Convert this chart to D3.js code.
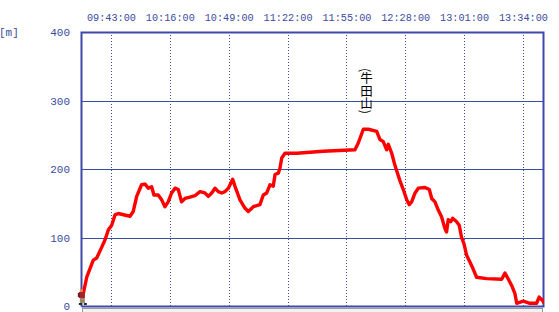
<!DOCTYPE html>
<html>
<head>
<meta charset="utf-8">
<script src="https://cdn.jsdelivr.net/npm/d3@7"></script>
<style>
  body { margin: 0; background: #fff; }
  svg { display: block; }
  .lbl { font-family: "Liberation Mono", monospace; font-size: 11px; fill: #3b4a9e; }
</style>
</head>
<body>
<div id="chart"></div>
<script>
// elevation track
const times = [
  '09:26:40', '09:29:25', '09:33:05', '09:35:00', '09:37:50', '09:39:35', '09:41:30', '09:43:25',
  '09:45:15', '09:47:05', '09:53:40', '09:55:30', '09:57:25', '10:00:10', '10:02:05', '10:03:55',
  '10:05:50', '10:07:05', '10:09:30', '10:11:25', '10:13:15', '10:15:05', '10:17:00', '10:18:55',
  '10:20:45', '10:22:35', '10:24:30', '10:27:20', '10:30:05', '10:32:55', '10:35:40', '10:37:35',
  '10:39:30', '10:41:20', '10:43:10', '10:45:05', '10:46:55', '10:48:50', '10:51:15', '10:52:30',
  '10:55:20', '10:58:05', '11:00:00', '11:02:50', '11:06:30', '11:08:25', '11:10:20', '11:12:10',
  '11:14:00', '11:15:00', '11:16:50', '11:17:45', '11:18:45', '11:20:35', '11:27:10', '11:42:00',
  '11:59:50', '12:01:40', '12:04:30', '12:07:20', '12:12:00', '12:13:50', '12:15:40', '12:17:35',
  '12:18:30', '12:20:25', '12:22:15', '12:25:00', '12:26:55', '12:28:50', '12:30:15', '12:31:35',
  '12:33:30', '12:35:20', '12:39:05', '12:41:30', '12:42:50', '12:44:40', '12:46:30', '12:48:25',
  '12:50:15', '12:51:10', '12:52:05', '12:53:30', '12:54:35', '12:56:50', '12:58:15', '12:59:35',
  '13:00:55', '13:02:25', '13:03:55', '13:05:55', '13:08:00', '13:13:35', '13:22:05', '13:23:55',
  '13:25:50', '13:27:40', '13:29:30', '13:30:30', '13:34:10', '13:37:55', '13:41:40', '13:43:05',
  '13:45:00', '13:45:50'
];
const elevations = [
  8, 42, 67, 70, 86, 96, 111, 118,
  133, 135, 131, 138, 160, 177, 178, 172,
  174, 162, 162, 155, 145, 152, 165, 172,
  170, 152, 157, 159, 161, 167, 165, 160,
  165, 172, 167, 165, 167, 172, 185, 175,
  155, 143, 138, 145, 148, 162, 165, 177,
  175, 192, 194, 201, 216, 223, 223, 226,
  228, 238, 258, 258, 255, 243, 240, 228,
  236, 223, 205, 183, 170, 155, 148, 152,
  165, 172, 173, 170, 157, 152, 140, 130,
  113, 108, 126, 123, 128, 123, 118, 100,
  91, 74, 66, 55, 42, 40, 39, 48,
  39, 30, 18, 4, 7, 4, 4, 13,
  8, 4
];
const timeTicks = ['09:43:00', '10:16:00', '10:49:00', '11:22:00', '11:55:00', '12:28:00', '13:01:00', '13:34:00'];
const elevTicks = [0, 100, 200, 300, 400];
const timeRange = ['09:26:12', '13:45:48'];
const summit = { name: '(牛田山)', time: '12:06:20' };

const width = 559;
const height = 312;
const margin = { top: 32, right: 15, bottom: 6, left: 81 };

const parse = d3.timeParse('%H:%M:%S');
const data = times.map((t, i) => ({ t: parse(t), e: elevations[i] }));

const svg = d3.select('#chart')
  .append('svg')
  .attr('width', width)
  .attr('height', height);

const x = d3.scaleTime()
  .domain(timeRange.map(parse))
  .range([margin.left, width - margin.right]);

const y = d3.scaleLinear()
  .domain([0, 400])
  .range([height - margin.bottom, margin.top]);

const frameColor = '#3f48aa';
const gridColor = '#3a4ea0';

// scrollbar-like strip under the plot
svg.append('rect')
  .attr('x', x.range()[0] + 1.5)
  .attr('y', y(0) + 2.5)
  .attr('width', x.range()[1] - x.range()[0] - 3)
  .attr('height', 8)
  .attr('fill', '#f2f2f2')
  .attr('stroke', '#9a9a9a');

// horizontal grid
svg.append('g')
  .selectAll('line')
  .data(elevTicks.filter(d => d > 0 && d < 400))
  .enter()
  .append('line')
  .attr('x1', x.range()[0])
  .attr('x2', x.range()[1])
  .attr('y1', d => Math.round(y(d)) + 0.5)
  .attr('y2', d => Math.round(y(d)) + 0.5)
  .attr('stroke', gridColor)
  .attr('stroke-width', 1);

// vertical dotted grid
svg.append('g')
  .selectAll('line')
  .data(timeTicks.map(parse))
  .enter()
  .append('line')
  .attr('x1', d => Math.round(x(d)) + 0.5)
  .attr('x2', d => Math.round(x(d)) + 0.5)
  .attr('y1', y(400))
  .attr('y2', y(0))
  .attr('stroke', gridColor)
  .attr('stroke-width', 1)
  .attr('stroke-dasharray', '1,2');

// top time axis (labels only)
const xAxis = d3.axisTop(x)
  .tickValues(timeTicks.map(parse))
  .tickFormat(d3.timeFormat('%H:%M:%S'))
  .tickSize(0)
  .tickPadding(0);

svg.append('g')
  .attr('transform', 'translate(0,' + (margin.top - 11) + ')')
  .call(xAxis)
  .call(g => g.select('.domain').remove())
  .selectAll('text')
  .attr('class', 'lbl')
  .attr('font-family', null)
  .attr('font-size', null)
  .attr('textLength', 49)
  .attr('lengthAdjust', 'spacingAndGlyphs');

// left elevation axis (labels only)
const yAxis = d3.axisLeft(y)
  .tickValues(elevTicks)
  .tickSize(0)
  .tickPadding(0);

svg.append('g')
  .attr('transform', 'translate(' + (margin.left - 11) + ',0)')
  .call(yAxis)
  .call(g => g.select('.domain').remove())
  .selectAll('text')
  .attr('class', 'lbl')
  .attr('font-family', null)
  .attr('font-size', null);

svg.append('text')
  .attr('class', 'lbl')
  .attr('x', -1)
  .attr('y', y(400) + 4)
  .text('[m]');

// frame
const fx0 = Math.round(x.range()[0]) + 0.5;
const fx1 = Math.round(x.range()[1]) - 0.5;
const fy0 = Math.round(y(400)) + 0.5;
const fy1 = Math.round(y(0)) + 0.5;
svg.append('path')
  .attr('d', `M${fx0},${fy1}V${fy0}H${fx1}V${fy1}H${fx0}`)
  .attr('fill', 'none')
  .attr('stroke', frameColor)
  .attr('stroke-width', 2);

// elevation line
svg.append('clipPath')
  .attr('id', 'plot')
  .append('rect')
  .attr('x', x.range()[0])
  .attr('y', y(400))
  .attr('width', x.range()[1] - x.range()[0])
  .attr('height', y(0) - y(400) + 1);

const line = d3.line()
  .x(d => x(d.t))
  .y(d => y(d.e));

svg.append('path')
  .datum(data)
  .attr('clip-path', 'url(#plot)')
  .attr('d', line)
  .attr('fill', 'none')
  .attr('stroke', '#ff0000')
  .attr('stroke-width', 3.4)
  .attr('stroke-linejoin', 'round');

// summit label, vertical text
svg.append('text')
  .attr('x', x(parse(summit.time)))
  .attr('y', y(400) + 36)
  .style('writing-mode', 'vertical-rl')
  .style('font-family', '"Noto Sans CJK JP", sans-serif')
  .style('font-size', '12.5px')
  .attr('fill', '#000')
  .text(summit.name);

// small hiker marker at the start
const hx = x(data[0].t);
const hy = y(0);
const hiker = svg.append('g').attr('transform', `translate(${hx - 3},${hy - 17})`);
hiker.append('rect').attr('x', 1).attr('y', 0).attr('width', 3).attr('height', 3).attr('fill', '#e08a50');
hiker.append('rect').attr('x', 0).attr('y', 3).attr('width', 6).attr('height', 6).attr('fill', '#a8202a');
hiker.append('rect').attr('x', -1).attr('y', 4).attr('width', 2).attr('height', 4).attr('fill', '#6a1a20');
hiker.append('rect').attr('x', 1).attr('y', 9).attr('width', 5).attr('height', 5).attr('fill', '#9a8a6a');
hiker.append('rect').attr('x', 0).attr('y', 14).attr('width', 3).attr('height', 2).attr('fill', '#2a2a2a');
hiker.append('rect').attr('x', 5).attr('y', 14).attr('width', 3).attr('height', 2).attr('fill', '#2a2a2a');
</script>
</body>
</html>
